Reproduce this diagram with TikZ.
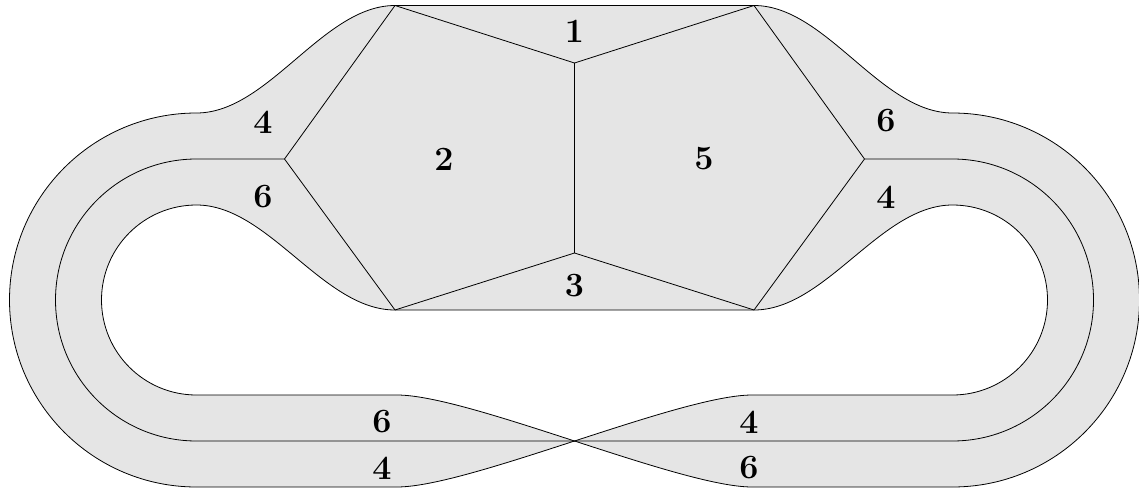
\documentclass[tikz,border=0pt]{standalone}
\usepackage{fontspec}
\begin{document}
\begin{tikzpicture}[x=1pt,y=1pt,
  edge/.style={line width=0.8pt,black},
  lab/.style={inner sep=0pt,font=\fontsize{34}{40}\selectfont\bfseries}]
\useasboundingbox (0,0) rectangle (1139,491);
% key points
\coordinate (TL) at (395,485.5);
\coordinate (TR) at (754,485.5);
\coordinate (BL) at (395,181);
\coordinate (BR) at (754,181);
\coordinate (T) at (574.5,428);
\coordinate (B) at (574.5,238);
\coordinate (L) at (284.5,332);
\coordinate (R) at (864.5,332);
\coordinate (X) at (574.5,50);
% filled band with hole
\fill[black!10,even odd rule]
  (TL) -- (TR) .. controls (826,485.5) and (880.5,378) .. (952.5,378)
  arc[start angle=90,end angle=-90,radius=187] -- (752,4)
  .. controls (716,4) and (645.25,27) .. (X)
  .. controls (503.75,27) and (433,4) .. (397,4) -- (196.5,4)
  arc[start angle=-90,end angle=-270,radius=187]
  .. controls (268.5,378) and (323,485.5) .. (TL) -- cycle
  (BL) -- (BR) .. controls (826,181) and (880.5,286) .. (952.5,286)
  arc[start angle=90,end angle=-90,radius=95] -- (752,96)
  .. controls (716,96) and (645.25,73) .. (X)
  .. controls (503.75,73) and (433,96) .. (397,96) -- (196.5,96)
  arc[start angle=-90,end angle=-270,radius=95]
  .. controls (268.5,286) and (323,181) .. (BL) -- cycle;
% outer boundary
\draw[edge]
  (TL) -- (TR) .. controls (826,485.5) and (880.5,378) .. (952.5,378)
  arc[start angle=90,end angle=-90,radius=187] -- (752,4)
  .. controls (716,4) and (645.25,27) .. (X)
  .. controls (503.75,27) and (433,4) .. (397,4) -- (196.5,4)
  arc[start angle=-90,end angle=-270,radius=187]
  .. controls (268.5,378) and (323,485.5) .. (TL) -- cycle;
% hole boundary
\draw[edge]
  (BL) -- (BR) .. controls (826,181) and (880.5,286) .. (952.5,286)
  arc[start angle=90,end angle=-90,radius=95] -- (752,96)
  .. controls (716,96) and (645.25,73) .. (X)
  .. controls (503.75,73) and (433,96) .. (397,96) -- (196.5,96)
  arc[start angle=-90,end angle=-270,radius=95]
  .. controls (268.5,286) and (323,181) .. (BL) -- cycle;
% middle line of the band
\draw[edge] (L) -- (196.5,332) arc[start angle=90,end angle=270,radius=141]
  -- (952.5,50) arc[start angle=-90,end angle=90,radius=141] -- (R);
% hexagon inner lines
\draw[edge] (TL) -- (T) -- (TR);
\draw[edge] (T) -- (B);
\draw[edge] (BL) -- (B) -- (BR);
\draw[edge] (TL) -- (L) -- (BL);
\draw[edge] (TR) -- (R) -- (BR);
% labels
\node[lab] (n1) at (574.5,460) {1};
\node[lab] (n2) at (444,331.5) {2};
\node[lab] (n5) at (704,332) {5};
\node[lab] (n3) at (574.5,205) {3};
\node[lab] (l4) at (263,369) {4};
\node[lab] (l6) at (263,294) {6};
\node[lab] (r6) at (886,370) {6};
\node[lab] (r4) at (886,294) {4};
\node[lab] (bl6) at (382,69) {6};
\node[lab] (bl4) at (382,23) {4};
\node[lab] (br4) at (749,69) {4};
\node[lab] (br6) at (749,23) {6};
\end{tikzpicture}
\end{document}
